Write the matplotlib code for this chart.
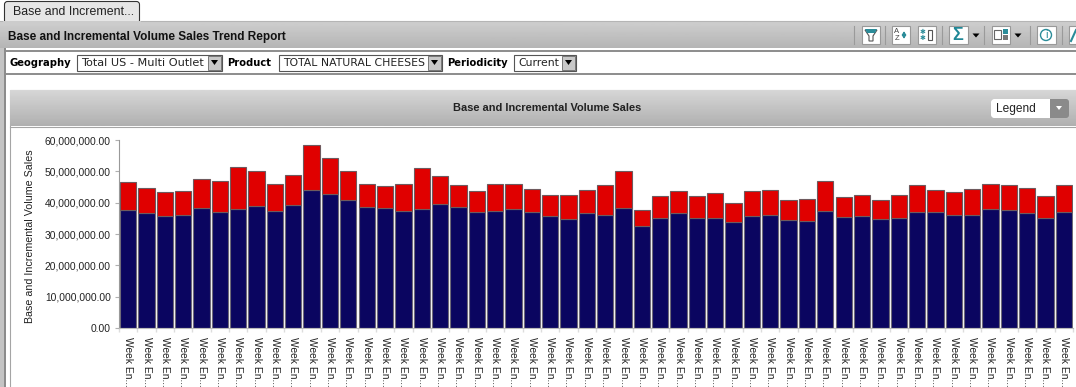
import matplotlib
matplotlib.use('Agg')
import matplotlib.pyplot as plt
from matplotlib.patches import Rectangle, Polygon, Circle, FancyBboxPatch
import numpy as np

#Werte aus dem Bild, in Millionen
base = [37.8, 36.8, 35.8, 36.1, 38.4, 37.1, 38.0, 39.0, 37.4, 39.2, 44.0, 42.9, 41.0, 38.7,
        38.3, 37.3, 38.0, 39.5, 38.7, 36.9, 37.4, 38.0, 36.9, 35.8, 34.9, 36.6, 36.0, 38.3,
        32.7, 35.1, 36.8, 35.0, 35.0, 33.7, 35.7, 36.0, 34.5, 34.2, 37.3, 35.4, 35.7, 34.7,
        35.1, 37.1, 37.1, 36.2, 36.1, 38.0, 37.6, 36.6, 35.1, 36.9]
incremental = [8.9, 8.0, 7.5, 7.7, 9.0, 9.9, 13.3, 11.0, 8.4, 9.6, 14.3, 11.2, 9.0, 7.4,
               7.1, 8.8, 13.2, 8.9, 7.0, 6.7, 8.7, 7.8, 7.6, 6.7, 7.7, 7.5, 9.5, 11.9,
               5.1, 7.1, 7.0, 7.2, 8.0, 6.3, 7.9, 8.1, 6.5, 7.0, 9.7, 6.5, 6.6, 6.2,
               7.4, 8.4, 7.1, 7.2, 8.4, 8.1, 7.9, 8.2, 6.9, 8.8]
yticks = [0, 10, 20, 30, 40, 50, 60]
week_label = 'Week En...'

W, H = 1076, 387
arial = ['Liberation Sans', 'DejaVu Sans']
verdana = ['DejaVu Sans']

def gradient(ui, x0, x1, y0, y1, top, bottom):
    g = np.linspace(top, bottom, 32).reshape(-1, 1)
    ui.imshow(g, cmap='gray', vmin=0, vmax=1, extent=(x0, x1, y1, y0), aspect='auto', zorder=1)

def select(ui, x0, x1, text, size=7.8):
    ui.add_patch(Rectangle((x0, 54.5), x1 - x0, 16, fc='white', ec='#555555', lw=0.8, zorder=3))
    ui.text(x0 + 4, 63, text, family=verdana, fontsize=size, va='center', color='#222222', zorder=4)
    ui.add_patch(Rectangle((x1 - 14, 55.5), 13, 14, fc='#c8c8c8', ec='#777777', lw=0.7, zorder=4))
    ui.add_patch(Polygon([[x1 - 11, 60], [x1 - 4, 60], [x1 - 7.5, 65]], fc='black', zorder=5))

def icon(ui, x0, x1):
    ui.add_patch(Rectangle((x0, 26), x1 - x0, 17.5, fc='white', ec='#999999', lw=0.8, zorder=3))

fig = plt.figure(figsize=(W / 100, H / 100), dpi=100, facecolor='white')

#Oberflaeche in Pixelkoordinaten
ui = fig.add_axes([0, 0, 1, 1])
ui.set_xlim(0, W)
ui.set_ylim(H, 0)
ui.axis('off')

gradient(ui, 0, W, 21, 48, 0.81, 0.71)
ui.plot([0, W], [20.5, 20.5], color='#b5b5b5', lw=0.8, zorder=2)
ui.plot([3, W], [51, 51], color='#8c8c8c', lw=1.4, zorder=2)
ui.plot([3, W], [74, 74], color='#8c8c8c', lw=1.4, zorder=2)
ui.add_patch(Rectangle((0, 48), 3.5, H - 48, fc='#c4c4c4', ec='none', zorder=2))
ui.add_patch(Rectangle((3.5, 48), 2, H - 48, fc='#8c8c8c', ec='none', zorder=2))

#Reiter
ui.add_patch(FancyBboxPatch((4.5, 1.5), 135, 22, boxstyle='round,pad=0,rounding_size=3',
                            fc='#e6e6e6', ec='#333333', lw=0.8, zorder=3))
ui.add_patch(Rectangle((3, 20.5), 138, 4, fc='#cccccc', ec='none', zorder=4))
ui.text(13, 12, 'Base and Increment...', family=arial, fontsize=8.9, va='center', color='#222222', zorder=5)
ui.text(8, 37, 'Base and Incremental Volume Sales Trend Report', family=arial, fontsize=8.45,
        fontweight='bold', va='center', color='#111111', zorder=5)

#Auswahlzeile
ui.text(9, 62.5, 'Geography', family=verdana, fontsize=7.2, fontweight='bold', va='center', zorder=5)
select(ui, 77, 222, 'Total US - Multi Outlet', 8.1)
ui.text(227, 62.5, 'Product', family=verdana, fontsize=7.2, fontweight='bold', va='center', zorder=5)
select(ui, 279, 442, 'TOTAL NATURAL CHEESES')
ui.text(447, 62.5, 'Periodicity', family=verdana, fontsize=7.2, fontweight='bold', va='center', zorder=5)
select(ui, 514, 576, 'Current')

#Werkzeugleiste
for x in [854, 885, 942, 984, 1030, 1062]:
    ui.plot([x, x], [26, 44], color='#9a9a9a', lw=0.8, zorder=3)
for x0, x1 in [(862, 880), (892, 910), (918, 936), (949, 968), (992, 1010), (1037, 1056), (1069, 1080)]:
    icon(ui, x0, x1)
ui.add_patch(Polygon([[865, 30], [877, 30], [873, 36], [873, 41], [869, 41], [869, 36]],
                     fc='#ffffff', ec='#555555', lw=0.8, zorder=4))
ui.add_patch(Polygon([[865, 29], [877, 29], [875, 33], [867, 33]], fc='#2b8c99', zorder=5))
ui.text(897, 35, 'A\nZ', family=arial, fontsize=5.5, ha='center', va='center', linespacing=0.9, color='#444444', zorder=5)
ui.annotate('', (904, 28), (904, 42), arrowprops=dict(arrowstyle='<->', color='#2b8c99', lw=1.2, mutation_scale=5), zorder=5)
ui.text(923, 35, '✱\n✱', family=verdana, fontsize=5, ha='center', va='center', linespacing=1, color='#2b8c99', zorder=5)
ui.add_patch(Rectangle((928, 30), 4, 10, fc='white', ec='#555555', lw=0.8, zorder=5))
ui.text(958, 35, 'Σ', family=arial, fontsize=13, fontweight='bold', ha='center', va='center', color='#1f8796', zorder=5)
ui.add_patch(Rectangle((994, 30), 7, 9, fc='white', ec='#666666', lw=0.8, zorder=5))
ui.add_patch(Rectangle((1003, 29), 5, 5, fc='#2b8c99', zorder=5))
ui.add_patch(Rectangle((1003, 35), 5, 5, fc='#777777', zorder=5))
for x in [976, 1018]:
    ui.add_patch(Polygon([[x - 3.5, 33.5], [x + 3.5, 33.5], [x, 37.5]], fc='black', zorder=5))
ui.add_patch(Circle((1046, 35), 5.5, fc='white', ec='#2b8c99', lw=1, zorder=5))
ui.text(1046, 35, 'i', family=arial, fontsize=8, ha='center', va='center', color='#2b8c99', zorder=6)
ui.plot([1071, 1076], [41, 30], color='#2b8c99', lw=1.5, zorder=5)

#Diagrammkopf
ui.add_patch(Rectangle((9.5, 89.5), W, H, fc='white', ec='#a5a5a5', lw=0.8, zorder=1))
gradient(ui, 10, W, 90, 126, 0.84, 0.69)
ui.plot([10, W], [126.5, 126.5], color='#a5a5a5', lw=0.8, zorder=2)
ui.text(547, 108, 'Base and Incremental Volume Sales', family=arial, fontsize=7.9, fontweight='bold',
        ha='center', va='center', color='#222222', zorder=5)
ui.add_patch(FancyBboxPatch((991, 99), 78, 19, boxstyle='round,pad=0,rounding_size=3', fc='#8a8a8a', ec='none', zorder=3))
ui.add_patch(FancyBboxPatch((991, 99), 58, 19, boxstyle='round,pad=0,rounding_size=3', fc='white', ec='none', zorder=4))
ui.add_patch(Rectangle((1045, 99), 5, 19, fc='white', ec='none', zorder=4))
ui.text(996, 109, 'Legend', family=arial, fontsize=8.6, va='center', color='#222222', zorder=5)
ui.add_patch(Polygon([[1056, 106], [1062, 106], [1059, 110]], fc='white', zorder=5))

#Diagramm
ax = fig.add_axes([119 / W, 1 - 328 / H, 954 / W, 188 / H])
ax.patch.set_alpha(0)
pos = np.arange(len(base)) + 0.5
ax.bar(pos, base, width=0.89, color='#0a0560', edgecolor='#6e6a78', linewidth=0.8)
ax.bar(pos, incremental, bottom=base, width=0.89, color='#e00000', edgecolor='#6e5a5e', linewidth=0.8)
ax.set_xlim(0, len(base))
ax.set_ylim(0, 60)
ax.set_yticks(yticks)
ax.set_yticklabels([f'{v * 1000000:,.2f}' for v in yticks], family=arial, fontsize=7.4, color='#222222')
ax.set_xticks(pos)
ax.set_xticklabels([week_label] * len(base), rotation=270, family=arial, fontsize=7.4, color='#222222')
ax.set_xticks(np.arange(len(base) + 1), minor=True)
ax.tick_params(axis='x', which='major', length=0, pad=6.5)
ax.tick_params(axis='x', which='minor', length=3, color='#dddddd', width=1)
ax.tick_params(axis='y', length=3, color='#b0b0b0', pad=3)
for s in ['top', 'right']:
    ax.spines[s].set_visible(False)
ax.spines['left'].set_color('#999999')
ax.spines['bottom'].set_color('#bbbbbb')
ui.text(30, 236, 'Base and Incremental Volume Sales', family=arial, fontsize=7.7, rotation=90,
        ha='center', va='center', color='#222222', zorder=5)

fig.savefig('out.png', dpi=100)
